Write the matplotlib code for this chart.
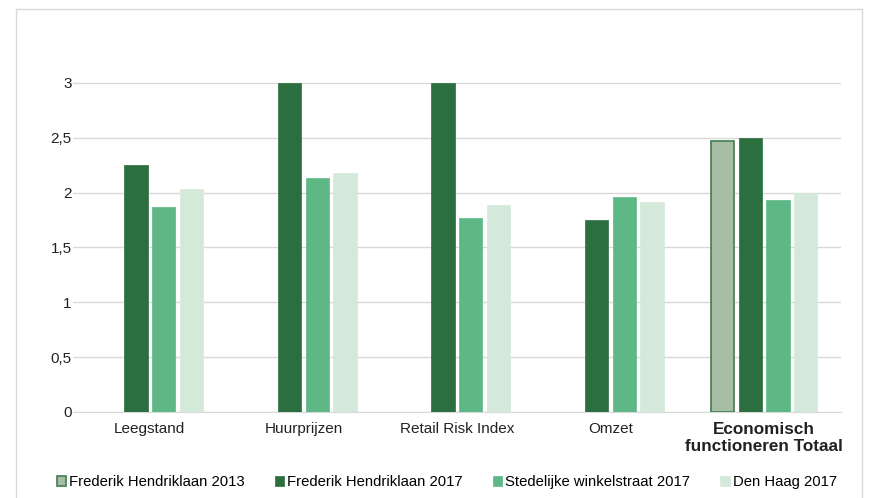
import numpy as np
import matplotlib
matplotlib.use("Agg")
import matplotlib.pyplot as plt
from matplotlib.patches import Rectangle

plt.rcParams["font.family"] = ["Liberation Sans", "DejaVu Sans"]

categories = ["Leegstand", "Huurprijzen", "Retail Risk Index", "Omzet",
              "Economisch\nfunctioneren Totaal"]
series_names = ["Frederik Hendriklaan 2013", "Frederik Hendriklaan 2017",
                "Stedelijke winkelstraat 2017", "Den Haag 2017"]
fh2013 = [np.nan, np.nan, np.nan, np.nan, 2.47]
fh2017 = [2.25, 3.0, 3.0, 1.75, 2.5]
stedelijk2017 = [1.87, 2.13, 1.77, 1.96, 1.93]
denhaag2017 = [2.03, 2.18, 1.89, 1.91, 2.0]
yticks = [0, 0.5, 1, 1.5, 2, 2.5, 3]
ytick_labels = ["0", "0,5", "1", "1,5", "2", "2,5", "3"]

colors = ["#a7bea4", "#2b6e3f", "#5eb886", "#d4e9da"]
edges = ["#3f7d50", "#2b6e3f", "#5eb886", "#d4e9da"]

fig = plt.figure(figsize=(8.71, 4.98), dpi=100)
ax = fig.add_axes([0.0838, 0.1727, 0.8817, 0.7711])

# outer chart frame
fig.patches.append(Rectangle((16 / 871, -0.05), (862 - 16) / 871, 1.05 - 9 / 498,
                             transform=fig.transFigure, fill=False,
                             edgecolor="#d9d9d9", lw=1))

x = np.arange(len(categories))
step, width = 0.18, 0.152
for i, (vals, name) in enumerate(zip([fh2013, fh2017, stedelijk2017, denhaag2017], series_names)):
    ax.bar(x + (i - 1.5) * step, vals, width, color=colors[i], edgecolor=edges[i],
           lw=1.2 if i == 0 else 0.5, label=name, zorder=3)

ax.set_xlim(-0.5, len(categories) - 0.5)
ax.set_ylim(0, 3.5)
ax.set_yticks(yticks)
ax.set_yticklabels(ytick_labels)
ax.set_xticks(x)
ax.set_xticklabels(categories)
ax.tick_params(axis="both", length=0, labelsize=11, colors="#222222")
ax.tick_params(axis="y", pad=1)
ax.tick_params(axis="x", pad=7)
last = ax.get_xticklabels()[-1]
last.set_fontweight("bold")
last.set_fontsize(12.3)
last.set_linespacing(1.15)
ax.grid(axis="y", color="#d9d9d9", lw=1, zorder=0)
for s in ["top", "right", "left"]:
    ax.spines[s].set_visible(False)
ax.spines["bottom"].set_color("#d9d9d9")

fig.legend(loc="center", bbox_to_anchor=(0.513, 0.032), ncol=4, frameon=False,
           fontsize=10.7, handlelength=0.65, handleheight=0.65, handletextpad=0.2,
           columnspacing=2.0)

fig.savefig("out.png", dpi=100)
